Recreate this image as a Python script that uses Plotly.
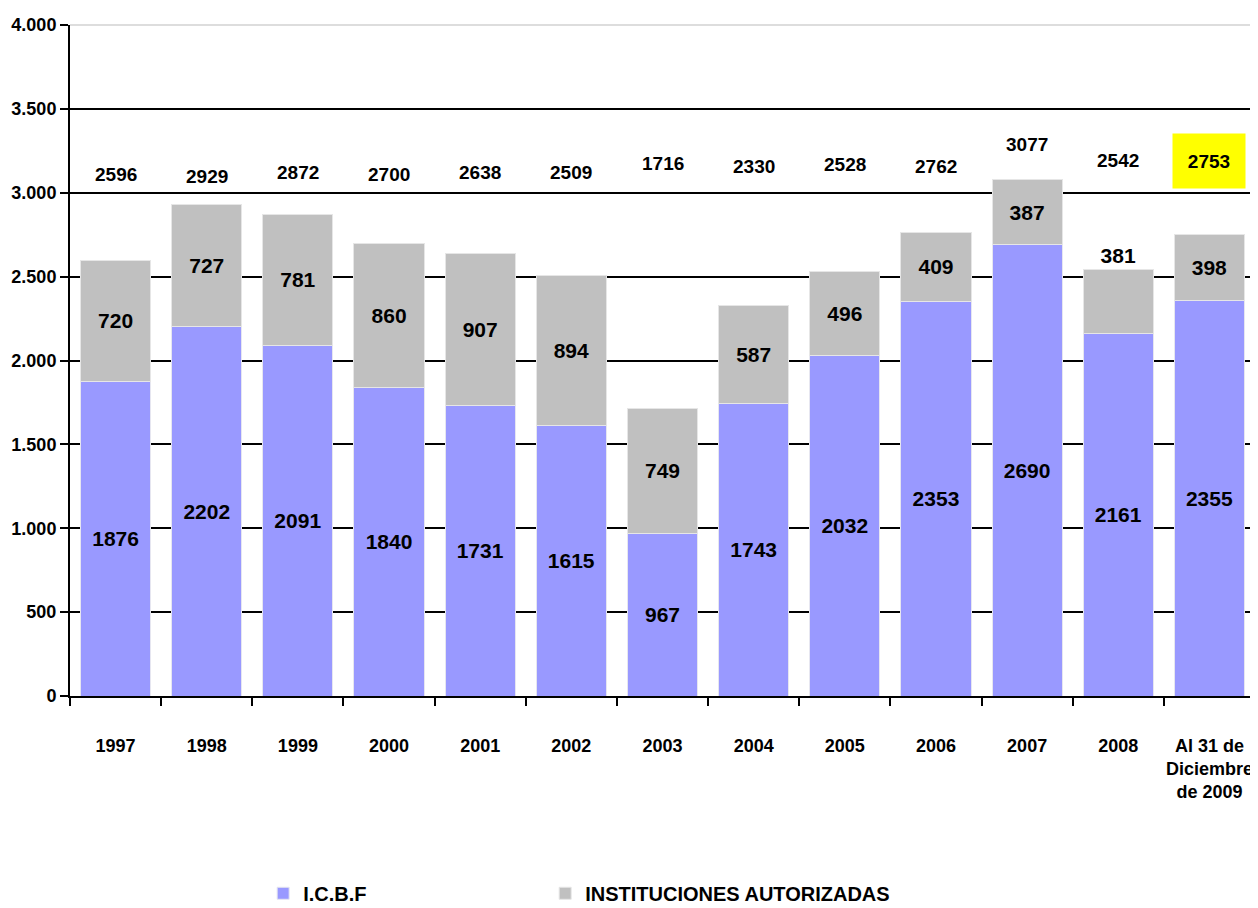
import plotly.graph_objects as go

categories = ["1997", "1998", "1999", "2000", "2001", "2002", "2003", "2004",
              "2005", "2006", "2007", "2008", "Al 31 de<br>Diciembre<br>de 2009"]
icbf = [1876, 2202, 2091, 1840, 1731, 1615, 967, 1743, 2032, 2353, 2690, 2161, 2355]
instituciones = [720, 727, 781, 860, 907, 894, 749, 587, 496, 409, 387, 381, 398]
totales = [2596, 2929, 2872, 2700, 2638, 2509, 1716, 2330, 2528, 2762, 3077, 2542, 2753]

# label placement (layout only)
total_label_y = [3106, 3094, 3118, 3106, 3118, 3118, 3177, 3154, 3166, 3154, 3285, 3190, 3190]
inst_textpos = ["inside"] * 11 + ["outside", "inside"]

FONT = "Liberation Sans, Arial, sans-serif"

fig = go.Figure()
fig.add_trace(go.Bar(
    x=categories, y=icbf, name="I.C.B.F", legend="legend",
    marker=dict(color="#9999FF", line=dict(color="#E6E6F0", width=1)),
    text=[str(v) for v in icbf], textposition="inside", insidetextanchor="middle",
    textfont=dict(family=FONT, size=21, color="black", weight="bold"), textangle=0,
    hoverinfo="skip",
))
fig.add_trace(go.Bar(
    x=categories, y=instituciones, name="INSTITUCIONES AUTORIZADAS", legend="legend2",
    marker=dict(color="#C0C0C0", line=dict(color="#E6E6E6", width=1)),
    text=[str(v) for v in instituciones], textposition=inst_textpos,
    insidetextanchor="middle", constraintext="none", cliponaxis=False,
    textfont=dict(family=FONT, size=21, color="black", weight="bold"), textangle=0,
    hoverinfo="skip",
))

for i, t in enumerate(totales):
    hl = (i == len(categories) - 1)
    fig.add_annotation(
        x=i, y=total_label_y[i], xref="x", yref="y", text=str(t), showarrow=False,
        font=dict(family=FONT, size=19, color="black", weight="bold"),
        bgcolor="#FFFF00" if hl else "rgba(0,0,0,0)",
        width=70 if hl else None, height=52 if hl else None,
    )

fig.add_shape(type="line", xref="paper", yref="paper", x0=0, x1=1, y0=1, y1=1,
              line=dict(color="#DDDDDD", width=2), layer="above")

legend_font = dict(family=FONT, size=20, color="black", weight="bold")
fig.update_layout(
    barmode="stack", bargap=0.23,
    width=1250, height=900,
    margin=dict(l=62, r=3, t=17, b=212, autoexpand=False),
    plot_bgcolor="white", paper_bgcolor="white",
    separators=",.",
    font=dict(family=FONT, color="black"),
    showlegend=True,
    legend=dict(orientation="h", x=0.163, xanchor="left", y=-0.294, yanchor="middle",
                font=legend_font, itemwidth=30),
    legend2=dict(orientation="h", x=0.401, xanchor="left", y=-0.294, yanchor="middle",
                 font=legend_font, itemwidth=30),
)
fig.update_yaxes(
    range=[0, 4000], dtick=500, tickformat=",d", automargin=False,
    showgrid=True, gridcolor="black", gridwidth=1.5,
    showline=True, linecolor="black", linewidth=2,
    ticks="outside", ticklen=8, tickcolor="black", tickwidth=2,
    tickfont=dict(family=FONT, size=18, color="black", weight="bold"),
    zeroline=False,
)
fig.update_xaxes(
    type="category", range=[-0.5, len(categories) - 0.5], automargin=False,
    showline=True, linecolor="black", linewidth=2,
    ticks="outside", tickson="boundaries", ticklen=8, tickcolor="black", tickwidth=1.5,
    tickfont=dict(family=FONT, size=18, color="black", weight="bold"),
    ticklabelstandoff=32, tickangle=0,
)

fig.write_html("out.html")
